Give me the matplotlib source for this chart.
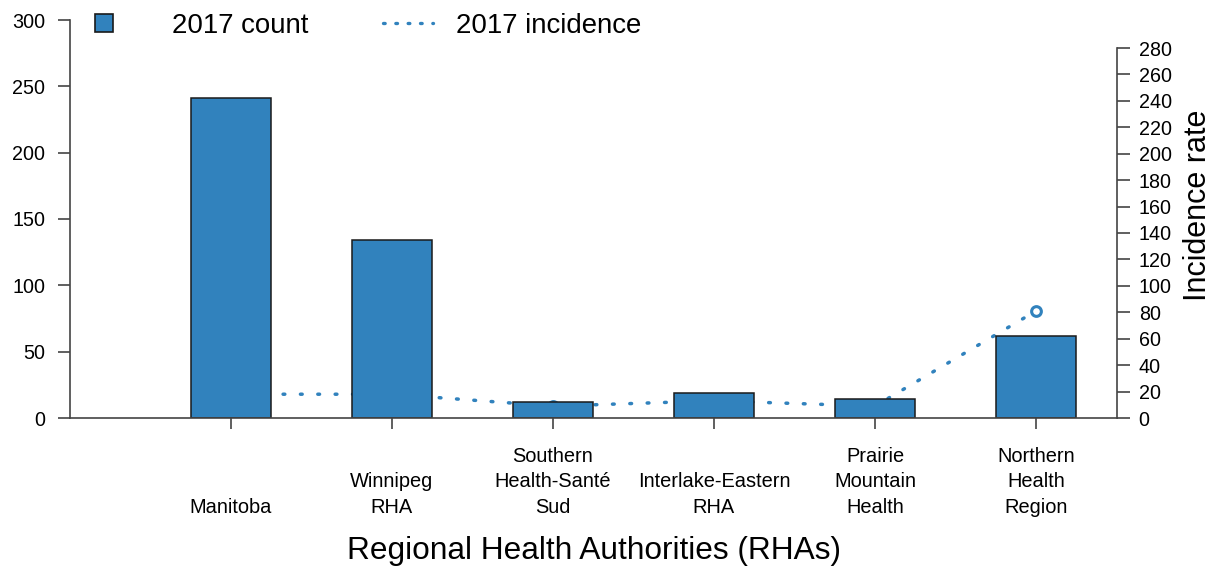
import numpy as np
import matplotlib
matplotlib.use('Agg')
import matplotlib.pyplot as plt
from matplotlib.lines import Line2D

plt.rcParams['font.family'] = ['Liberation Sans', 'DejaVu Sans']

# Data
regions = ['Manitoba', 'Winnipeg\nRHA', 'Southern\nHealth-Santé\nSud',
           'Interlake-Eastern\nRHA', 'Prairie\nMountain\nHealth',
           'Northern\nHealth\nRegion']
count_2017 = [241, 134, 12, 19, 14, 62]
incidence_2017 = [18, 18, 9, 13, 9, 81]

blue = '#3182BD'
axis_col = '#444444'
dots = (0, (0.5, 4.5))
x = np.arange(1, len(regions) + 1)

fig = plt.figure(figsize=(12.14, 5.67), dpi=100)
ax = fig.add_axes([70/1214, 1 - 418/567, (1116.5 - 70)/1214, 398/567])
ax2 = ax.twinx()

# bars on top of the incidence line
ax.set_zorder(ax2.get_zorder() + 1)
ax.patch.set_visible(False)

ax.bar(x, count_2017, width=0.5, color=blue, edgecolor='#1a1a1a', linewidth=1.1)
ax2.plot(x, incidence_2017, color=blue, lw=2.5, linestyle=dots,
         dash_capstyle='round', marker='o', markersize=7, mfc='none', mew=2.2)

ax.set_xlim(0, 6.5)
ax.set_ylim(0, 300)
ax2.set_ylim(0, 280 * 398 / 370)

for a in (ax, ax2):
    a.spines['top'].set_visible(False)
    for s in a.spines.values():
        s.set_color(axis_col)
        s.set_linewidth(1.2)
ax.spines['right'].set_visible(False)
ax2.spines['left'].set_visible(False)
ax2.spines['bottom'].set_visible(False)
ax.spines['left'].set_bounds(0, 300)
ax2.spines['right'].set_bounds(0, 280)

ax.set_yticks(np.arange(0, 301, 50))
ax2.set_yticks(np.arange(0, 281, 20))
ax.tick_params(axis='y', length=9, width=1.2, color=axis_col, labelsize=14.2, pad=9)
ax2.tick_params(axis='y', length=9, width=1.2, color=axis_col, labelsize=14.2, pad=7)

ax.set_xticks(x)
ax.set_xticklabels([])
ax.tick_params(axis='x', length=8, width=1.2, color=axis_col)
for xi, lab in zip(x, regions):
    ax.text(xi, -(513 - 418) / 398, lab, transform=ax.get_xaxis_transform(),
            ha='center', va='baseline', multialignment='center',
            fontsize=14.4, linespacing=1.44)

fig.text(594/1214, 1 - 551/567, 'Regional Health Authorities (RHAs)',
         ha='center', va='center', fontsize=22.8)
fig.text(1198/1214, 1 - 205/567, 'Incidence rate', rotation=90,
         ha='center', va='center', fontsize=22)

# Legend
h1 = Line2D([], [], marker='s', ls='none', markersize=13, mfc=blue,
            mec='#1a1a1a', mew=1.2)
h2 = Line2D([], [], color=blue, lw=2.4, linestyle=(0, (0.5, 3.2)),
            dash_capstyle='round')
fig.legend([h1], ['2017 count'], loc='center left',
           bbox_to_anchor=(90/1214, 1 - 26/567), frameon=False, fontsize=19.9,
           handlelength=1.0, handletextpad=1.95, borderpad=0, borderaxespad=0)
fig.legend([h2], ['2017 incidence'], loc='center left',
           bbox_to_anchor=(383/1214, 1 - 26/567), frameon=False, fontsize=19.9,
           handlelength=1.8, handletextpad=0.85, borderpad=0, borderaxespad=0)

fig.savefig('out.png', dpi=100)
